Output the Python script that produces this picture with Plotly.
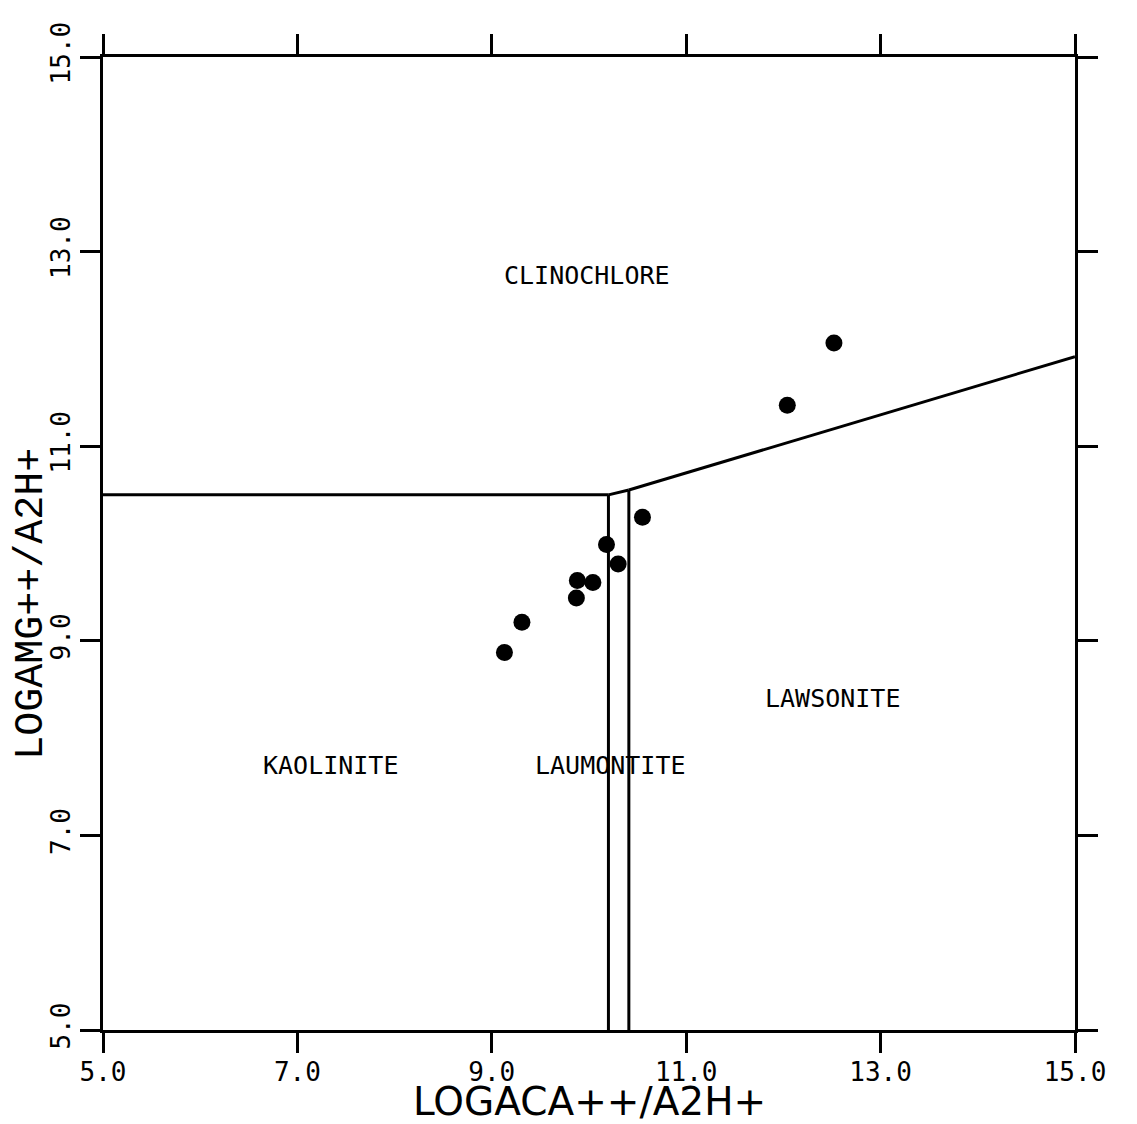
import plotly.graph_objects as go

# Axis ticks
x_ticks = [5.0, 7.0, 9.0, 11.0, 13.0, 15.0]
y_ticks = [5.0, 7.0, 9.0, 11.0, 13.0, 15.0]
x_ticklabels = ["5.0", "7.0", "9.0", "11.0", "13.0", "15.0"]
y_ticklabels = ["5.0", "7.0", "9.0", "11.0", "13.0", "15.0"]

# Sample points (log aCa++/a2H+, log aMg++/a2H+)
sample_logca = [9.13, 9.31, 9.87, 9.88, 10.04, 10.18, 10.30, 10.55, 12.04, 12.52]
sample_logmg = [8.88, 9.19, 9.44, 9.62, 9.60, 9.99, 9.79, 10.27, 11.42, 12.06]

# Phase boundaries
kaol_clino_x = [5.0, 10.2]
kaol_clino_y = [10.5, 10.5]
laum_clino_x = [10.2, 10.41]
laum_clino_y = [10.5, 10.55]
laws_clino_x = [10.41, 15.0]
laws_clino_y = [10.55, 11.92]
kaol_laum_x = [10.2, 10.2]
kaol_laum_y = [5.0, 10.5]
laum_laws_x = [10.41, 10.41]
laum_laws_y = [5.0, 10.55]

# Field labels
field_names = ["CLINOCHLORE", "KAOLINITE", "LAUMONTITE", "LAWSONITE"]
field_x = [9.98, 7.34, 10.22, 12.5]
field_y = [12.75, 7.72, 7.72, 8.41]

x_title = "LOGACA++/A2H+"
y_title = "LOGAMG++/A2H+"

FONT = "DejaVu Sans Mono, Liberation Mono, monospace"
TFONT = "Liberation Mono, DejaVu Sans Mono, monospace"
XFONT = "DejaVu Sans, Liberation Sans, sans-serif"

fig = go.Figure()
for bx, by in [(kaol_clino_x, kaol_clino_y), (laum_clino_x, laum_clino_y),
               (laws_clino_x, laws_clino_y), (kaol_laum_x, kaol_laum_y),
               (laum_laws_x, laum_laws_y)]:
    fig.add_trace(go.Scatter(x=bx, y=by, mode="lines",
                             line=dict(color="black", width=3),
                             showlegend=False, hoverinfo="skip"))

fig.add_trace(go.Scatter(x=sample_logca, y=sample_logmg, mode="markers",
                         marker=dict(color="black", size=17),
                         showlegend=False))

for name, fx, fy in zip(field_names, field_x, field_y):
    fig.add_annotation(x=fx, y=fy, text=name, showarrow=False,
                       font=dict(family=FONT, size=25, color="black"))

# axis titles as annotations
fig.add_annotation(x=-0.073, y=0.438, xref="paper", yref="paper",
                   xanchor="center", yanchor="middle",
                   text=y_title, textangle=-90, showarrow=False,
                   font=dict(family=TFONT, size=40, color="black"))
fig.add_annotation(x=0.5, y=-0.073, xref="paper", yref="paper",
                   xanchor="center", yanchor="middle",
                   text=x_title, showarrow=False,
                   font=dict(family=XFONT, size=39, color="black"))

axis_common = dict(showgrid=False, zeroline=False, showline=True,
                   linecolor="black", linewidth=3, mirror="ticks",
                   ticks="outside", ticklen=20, tickwidth=3,
                   tickcolor="black", automargin=False,
                   tickfont=dict(family=FONT, size=26, color="black"))

fig.update_layout(
    width=1129, height=1116,
    margin=dict(l=95, r=62, t=49, b=94),
    paper_bgcolor="white", plot_bgcolor="white",
    xaxis=dict(range=[5, 15], tickvals=x_ticks, ticktext=x_ticklabels,
               ticklabelstandoff=-3, **axis_common),
    yaxis=dict(range=[5, 15], tickvals=y_ticks, ticktext=y_ticklabels,
               tickangle=-90, **axis_common),
)

fig.write_html("out.html")
